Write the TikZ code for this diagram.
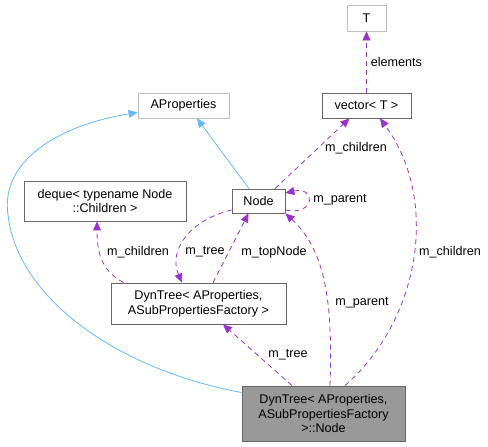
\documentclass[tikz,border=0pt]{standalone}
\usepackage{fontspec}
\setmainfont{Liberation Sans}
\usetikzlibrary{arrows.meta,calc}
\definecolor{purp}{HTML}{9A32CD}
\definecolor{blu}{HTML}{63B8FF}
\definecolor{bord}{HTML}{666666}
\definecolor{lbord}{HTML}{BFBFBF}
\definecolor{mainfill}{HTML}{999999}
\tikzset{
  box/.style={draw=bord, line width=0.8pt, fill=white, inner sep=0pt, align=center, font=\fontsize{12.6}{14.5}\selectfont},
  lbox/.style={box, draw=lbord},
  mainbox/.style={box, fill=mainfill},
  rel/.style={purp, line width=0.8pt, dash pattern=on 5pt off 4pt, -{Triangle[length=9pt,width=8pt]}},
  inh/.style={blu, line width=0.8pt, -{Triangle[length=9pt,width=8pt]}},
  lab/.style={font=\fontsize{12.6}{14.5}\selectfont, inner sep=0pt, text=black}
}
\begin{document}
\begin{tikzpicture}[x=1pt,y=-1pt]
\useasboundingbox (0,0) rectangle (488,447);
\node[lbox, minimum width=39pt, minimum height=26pt] (T) at (366.5,18) {T};
\node[lbox, minimum width=91pt, minimum height=25pt] (AP) at (183.5,105.5) {AProperties};
\node[box, minimum width=89pt, minimum height=25pt] (vec) at (366.5,105.5) {vector< T >};
\node[box, minimum width=162pt, minimum height=40pt] (deq) at (105,201) {deque< typename Node\\ ::Children >};
\node[box, minimum width=53pt, minimum height=24pt] (N) at (258.5,201) {Node};
\node[box, minimum width=175pt, minimum height=41pt] (DT) at (198.5,303.5) {DynTree< AProperties,\\ ASubPropertiesFactory >};
\node[mainbox, minimum width=163pt, minimum height=55pt] (B) at (323.5,413.5) {DynTree< AProperties,\\ ASubPropertiesFactory\\ >::Node};

% inheritance
\draw[inh] ($(B.west)+(0,-21)$) .. controls (120,370) and (18,300) .. (8,215) .. controls (0,160) and (60,125) .. ($(AP.west)+(0,7)$);
\draw[inh] ($(N.north)+(-9.5,0)$) -- ($(AP.south)+(13.5,0)$);

% relations
\draw[rel] (vec.north) -- node[lab, right=4pt, pos=0.5] {elements} (T.south);
\draw[rel] ($(N.north)+(16.5,0)$) -- ($(vec.south)+(-17,0)$);
\node[lab] (l1) at (356,148) {m\_children};
\draw[rel] ($(N.east)+(0,9)$) .. controls (316,216) and (316,186) .. ($(N.east)+(0,-8)$);
\node[lab] (l2) at (340,200) {m\_parent};
\draw[rel] ($(DT.north)+(-75,0)$) .. controls (100,270) and (97,250) .. ($(deq.south)+(-8,0)$);
\node[lab] (l3) at (138,252) {m\_children};
\draw[rel] ($(N.west)+(0,9)$) .. controls (190,220) and (168,250) .. ($(DT.north)+(-16.5,0)$);
\node[lab] (l4) at (205,252) {m\_tree};
\draw[rel] ($(DT.north)+(14.5,0)$) -- ($(N.south)+(-10,0)$);
\node[lab] (l5) at (274,252) {m\_topNode};
\draw[rel] ($(B.north)+(21.5,0)$) .. controls (420,320) and (440,200) .. ($(vec.south)+(13.5,0)$);
\node[lab] (l6) at (450,252) {m\_children};
\draw[rel] ($(B.north)+(6.5,0)$) .. controls (333,300) and (325,250) .. (N.south east);
\node[lab] (l7) at (362,303) {m\_parent};
\draw[rel] ($(B.north)+(-31.5,0)$) -- ($(DT.south)+(24.5,0)$);
\node[lab] (l8) at (288,355) {m\_tree};
\end{tikzpicture}
\end{document}
